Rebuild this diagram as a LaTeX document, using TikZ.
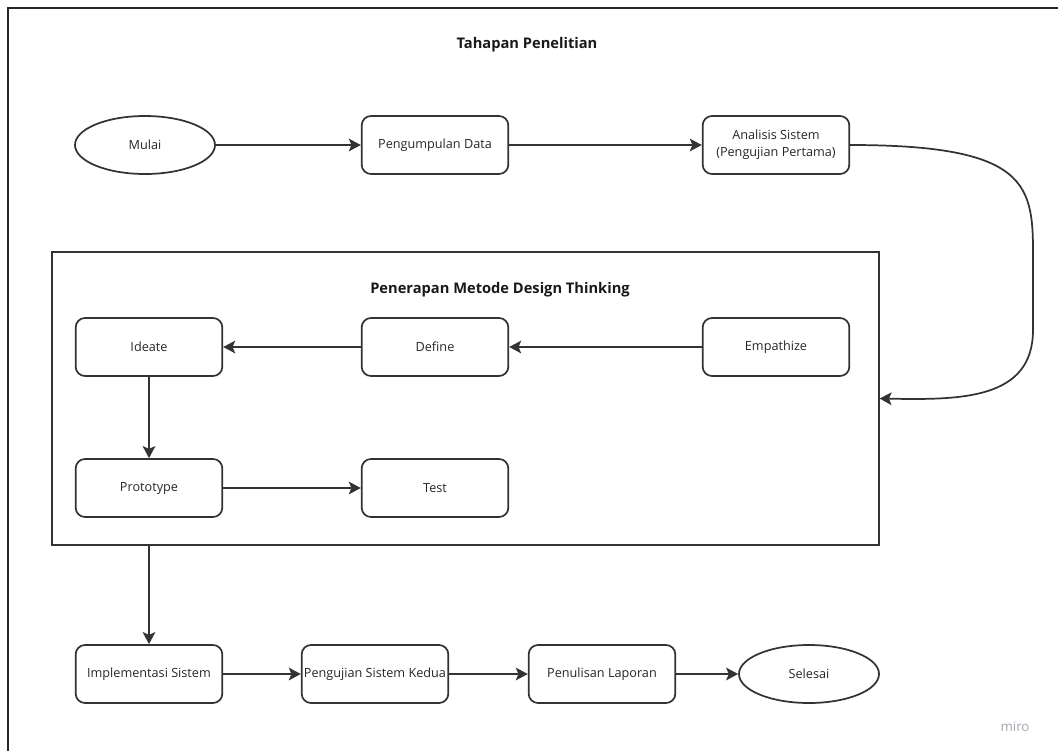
\documentclass[tikz,border=0pt]{standalone}
\usepackage{fontspec}
\setmainfont{Open Sans}
\usepackage{tikz}
\usetikzlibrary{shapes.geometric, arrows.meta, positioning}

\begin{document}
\begin{tikzpicture}[x=0.75pt, y=-0.75pt,
  process/.style={draw=black!80, rounded corners=7pt, line width=1.3pt,
    minimum width=110pt, minimum height=43.5pt, inner sep=1pt,
    align=center, font=\fontsize{9.5}{13}\selectfont, text=black!85},
  terminal/.style={ellipse, draw=black!80, line width=1.3pt,
    minimum width=105pt, minimum height=43.5pt, inner sep=1pt,
    font=\fontsize{9.5}{13}\selectfont, text=black!85},
  group/.style={draw=black!80, line width=1.1pt,
    minimum width=620pt, minimum height=219.75pt},
  heading/.style={font=\fontsize{11}{13}\selectfont\bfseries, text=black!90},
  flow/.style={-{Stealth[length=9pt, width=9.5pt, inset=2pt]}, line width=1.3pt, draw=black!80}
]
\useasboundingbox (0,0) rectangle (1058,751);
\draw[black!85, line width=1.2pt] (8,751) -- (8,8) -- (1058,8);

%% ── Tahapan awal ──
\node[heading] (title) at (527,45) {Tahapan Penelitian};
\node[terminal] (mulai)    at (145,145) {Mulai};
\node[process]  (kumpul)   at (435,145) {Pengumpulan Data};
\node[process]  (analisis) at (776,145) {Analisis Sistem\\(Pengujian Pertama)};

%% ── Design Thinking ──
\node[group] (dt) at (465.5,398.5) {};
\node[heading] (dttitle) at (500,290) {Penerapan Metode Design Thinking};
\node[process] (ideate)    at (149,347) {Ideate};
\node[process] (define)    at (435,347) {Define};
\node[process] (empathize) at (776,347) {Empathize};
\node[process] (proto)     at (149,488) {Prototype};
\node[process] (test)      at (435,488) {Test};

%% ── Tahapan akhir ──
\node[process]  (impl)    at (149,674) {Implementasi Sistem};
\node[process]  (uji)     at (375,674) {Pengujian Sistem Kedua};
\node[process]  (laporan) at (602,674) {Penulisan Laporan};
\node[terminal] (selesai) at (809,674) {Selesai};

\node[font=\fontsize{10}{11}\selectfont, text=blue!10!black!35] (miro) at (1015,727) {miro};

%% ── Alur ──
\draw[flow] (mulai) -- (kumpul);
\draw[flow] (kumpul) -- (analisis);
\draw[flow] (analisis.east) .. controls (1040,145) and (1033,190) .. (1033,270)
  -- (1033,330) .. controls (1033,400) and (960,400) .. (dt.east);
\draw[flow] (empathize) -- (define);
\draw[flow] (define) -- (ideate);
\draw[flow] (ideate) -- (proto);
\draw[flow] (proto) -- (test);
\draw[flow] (dt.south -| impl.north) -- (impl.north);
\draw[flow] (impl) -- (uji);
\draw[flow] (uji) -- (laporan);
\draw[flow] (laporan) -- (selesai);

\end{tikzpicture}
\end{document}
